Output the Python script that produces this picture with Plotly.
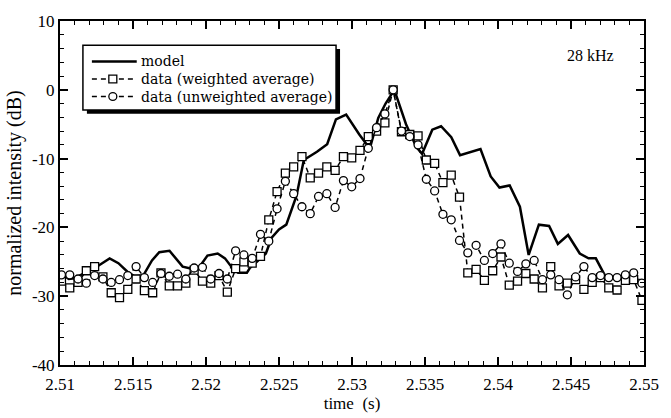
import numpy as np
import plotly.graph_objects as go

# ---------------- data ----------------
# model curve (time in s, normalized intensity in dB)
model_t = [2.5100, 2.5106, 2.5110, 2.5119, 2.5126, 2.5134, 2.5140, 2.5146, 2.5151, 2.5157,
           2.5163, 2.5168, 2.5175, 2.5184, 2.5194, 2.5201, 2.5208, 2.5213, 2.5218, 2.5222,
           2.5228, 2.5230, 2.5235, 2.5241, 2.5245, 2.5250, 2.5255, 2.5262, 2.5267, 2.5276,
           2.5283, 2.5289, 2.5296, 2.5305, 2.5310, 2.5313, 2.5318, 2.5323, 2.5329, 2.5337,
           2.5344, 2.5348, 2.5355, 2.5361, 2.5368, 2.5374, 2.5388, 2.5395, 2.5401, 2.5408,
           2.5415, 2.5421, 2.5428, 2.5435, 2.5441, 2.5448, 2.5456, 2.5462, 2.5467, 2.5473,
           2.5482, 2.5489, 2.5496, 2.5500]
model_db = [-26.5, -27.5, -27.4, -26.4, -25.6, -24.5, -25.2, -26.4, -27.1, -27.0,
            -24.8, -23.6, -23.4, -25.7, -26.2, -24.1, -23.8, -24.5, -25.9, -26.6,
            -26.6, -25.9, -25.0, -23.8, -21.5, -20.3, -19.6, -15.4, -10.2, -9.0,
            -7.9, -4.3, -3.6, -6.5, -7.9, -7.9, -4.1, -2.0, 0.0, -5.0,
            -8.3, -9.3, -5.8, -5.3, -6.9, -9.5, -8.6, -12.6, -14.2, -13.9,
            -17.0, -24.0, -19.6, -19.8, -22.4, -21.1, -23.8, -24.5, -24.5, -26.9,
            -27.3, -27.3, -28.1, -27.8]

# measured data sampling grid
T0 = 2.5101
DT = 0.000568
N_SAMPLES = 71
data_t = np.round(T0 + DT * np.arange(N_SAMPLES), 6)

weighted_db = [-27.8, -28.8, -28.0, -26.3, -25.7, -27.2, -29.5, -30.2, -29.0, -27.5,
               -29.2, -29.5, -26.6, -28.5, -28.5, -28.1, -26.2, -27.8, -28.1, -27.0,
               -29.4, -26.0, -25.0, -25.2, -24.2, -18.9, -14.8, -12.1, -11.2, -9.7,
               -12.8, -12.1, -11.2, -11.7, -9.7, -9.9, -8.8, -6.8, -6.0, -4.8,
               0.0, -6.1, -6.5, -6.7, -10.2, -10.7, -13.5, -12.4, -15.6, -26.6,
               -26.1, -27.7, -26.3, -24.3, -28.4, -27.8, -26.7, -27.5, -28.8, -25.7,
               -28.5, -28.1, -27.6, -29.0, -28.0, -27.3, -28.8, -29.1, -27.7, -27.6,
               -30.6]

unweighted_db = [-26.9, -26.9, -27.5, -28.1, -27.0, -27.5, -28.0, -27.6, -27.0, -25.7,
                 -27.3, -28.0, -26.7, -27.1, -26.8, -27.5, -25.9, -25.8, -27.5, -26.7,
                 -27.5, -23.4, -24.0, -24.5, -21.0, -22.0, -17.3, -13.3, -15.1, -17.0,
                 -18.0, -15.5, -15.1, -17.1, -13.2, -14.1, -12.9, -8.5, -5.5, -3.5,
                 0.0, -6.0, -6.8, -8.0, -13.0, -14.7, -18.1, -18.9, -21.9, -23.7,
                 -22.6, -24.8, -23.8, -22.4, -25.2, -26.4, -25.3, -24.8, -27.6, -26.9,
                 -27.6, -29.8, -27.2, -25.7, -27.3, -27.0, -27.3, -27.3, -26.9, -26.6,
                 -28.1]

x_tickvals = [2.51, 2.515, 2.52, 2.525, 2.53, 2.535, 2.54, 2.545, 2.55]
x_ticktext = ["2.51", "2.515", "2.52", "2.525", "2.53", "2.535", "2.54", "2.545", "2.55"]
y_tickvals = [-40, -30, -20, -10, 0, 10]
y_ticktext = ["-40", "-30", "-20", "-10", "0", "10"]

series_names = ["model", "data (weighted average)", "data (unweighted average)"]
annotation_text = "28 kHz"

# ---------------- layout geometry (pixels) ----------------
W, H = 671, 418
M_L, M_R, M_T, M_B = 60, 25, 16, 46
PW, PH = W - M_L - M_R, H - M_T - M_B


def px2x(px):
    return (px - M_L) / PW


def px2y(py):
    return (H - M_B - py) / PH


FONT = "Liberation Serif"
LEG_FONT = "DejaVu Serif"
fig = go.Figure()

fig.add_trace(go.Scatter(
    x=model_t, y=model_db, mode="lines", name=series_names[0],
    line=dict(color="black", width=2.5)))

fig.add_trace(go.Scatter(
    x=data_t, y=weighted_db, mode="lines+markers", name=series_names[1],
    line=dict(color="black", width=1.5, dash="5px,4px"),
    marker=dict(symbol="square", size=8, color="white",
                line=dict(color="black", width=1.3))))

fig.add_trace(go.Scatter(
    x=data_t, y=unweighted_db, mode="lines+markers", name=series_names[2],
    line=dict(color="black", width=1.5, dash="5px,4px"),
    marker=dict(symbol="circle", size=8, color="white",
                line=dict(color="black", width=1.3))))

axis_common = dict(
    showgrid=False, zeroline=False, showline=True, linecolor="black", linewidth=2,
    mirror="ticks", ticks="inside", tickcolor="black", tickwidth=1.5,
    tickfont=dict(family=FONT, size=17, color="black"),
)

fig.update_xaxes(
    range=[2.51, 2.55], tickvals=x_tickvals, ticktext=x_ticktext, ticklen=8,
    ticklabelstandoff=3,
    minor=dict(dtick=0.001, tick0=2.51, ticks="inside", ticklen=4,
               tickcolor="black", tickwidth=1.2),
    title=dict(text="time  (s)", font=dict(family=FONT, size=17, color="black"),
               standoff=0),
    **axis_common)

fig.update_yaxes(
    range=[-40, 10], tickvals=y_tickvals, ticktext=y_ticktext, ticklen=8,
    minor=dict(dtick=2, tick0=-40, ticks="inside", ticklen=4,
               tickcolor="black", tickwidth=1.2),
    title=dict(text="normalized intensity (dB)",
               font=dict(family=FONT, size=20, color="black"), standoff=5),
    **axis_common)

# ---------------- hand-drawn legend (box with drop shadow) ----------------
BOX = (83, 41, 337, 108)  # left, top, right, bottom in px
SH = 4
fig.add_shape(type="rect", xref="paper", yref="paper",
              x0=px2x(BOX[0] + SH), x1=px2x(BOX[2] + SH),
              y0=px2y(BOX[3] + SH), y1=px2y(BOX[1] + SH),
              fillcolor="black", line=dict(width=0), layer="above")
fig.add_shape(type="rect", xref="paper", yref="paper",
              x0=px2x(BOX[0]), x1=px2x(BOX[2]),
              y0=px2y(BOX[3]), y1=px2y(BOX[1]),
              fillcolor="white", line=dict(color="black", width=1.5), layer="above")

LEG_SIZE = 14
ROW_GAP = LEG_SIZE * 1.3
row_mid = 76
rows_py = [row_mid - ROW_GAP, row_mid, row_mid + ROW_GAP]
sample_x0, sample_x1, text_x = 92, 137, 139
line_styles = [dict(color="black", width=2.5),
               dict(color="black", width=1.5, dash="5px,4px"),
               dict(color="black", width=1.5, dash="5px,4px")]
for i, py in enumerate(rows_py):
    fig.add_shape(type="line", xref="paper", yref="paper",
                  x0=px2x(sample_x0), x1=px2x(sample_x1),
                  y0=px2y(py), y1=px2y(py), line=line_styles[i], layer="above")
    if i > 0:
        cx, r = 113, 4
        fig.add_shape(type="rect" if i == 1 else "circle", xref="paper", yref="paper",
                      x0=px2x(cx - r), x1=px2x(cx + r),
                      y0=px2y(py + r), y1=px2y(py - r),
                      fillcolor="white", line=dict(color="black", width=1.3),
                      layer="above")

fig.add_annotation(text="<br>".join(series_names), xref="paper", yref="paper",
                   x=px2x(text_x), y=px2y(row_mid), xanchor="left", yanchor="middle",
                   align="left", showarrow=False,
                   font=dict(family=LEG_FONT, size=LEG_SIZE, color="black"))

fig.add_annotation(text=annotation_text, xref="paper", yref="paper",
                   x=px2x(592), y=px2y(52), xanchor="center", yanchor="middle",
                   showarrow=False,
                   font=dict(family=FONT, size=16, color="black"))

fig.update_layout(
    width=W, height=H,
    margin=dict(l=M_L, r=M_R, t=M_T, b=M_B),
    paper_bgcolor="white", plot_bgcolor="white",
    font=dict(family=FONT, color="black"),
    showlegend=False,
)

fig.write_html("out.html")
